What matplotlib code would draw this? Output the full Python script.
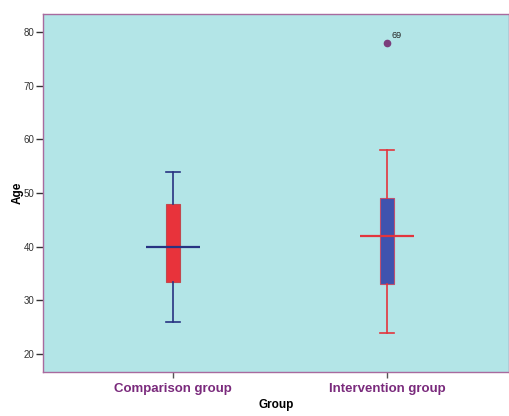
import matplotlib
matplotlib.use("Agg")
import matplotlib.pyplot as plt

groups = ["Comparison group", "Intervention group"]
whislo = [26, 24]
q1 = [33.5, 33]
med = [40, 42]
q3 = [48, 49]
whishi = [54, 58]
fliers = [[], [78]]
flier_ids = [[], ["69"]]
yticks = [20, 30, 40, 50, 60, 70, 80]

box_fill = ["#E8333B", "#3F53AE"]
line_col = ["#283382", "#E2353D"]
bg = "#B3E5E7"
frame = "#A86A9E"
label_col = "#7A2A7C"

plt.rcParams['font.family'] = ['Liberation Sans', 'DejaVu Sans']
fig = plt.figure(figsize=(5.10, 4.16), dpi=100)
ax = fig.add_axes([43/510, 44/416, 466/510, 358/416])
ax.set_facecolor(bg)

positions = [1, 2]
stats = []
for i, g in enumerate(groups):
    stats.append(dict(label=g, whislo=whislo[i], q1=q1[i], med=med[i],
                      q3=q3[i], whishi=whishi[i], fliers=fliers[i]))
art = ax.bxp(stats, positions=positions, widths=0.062, patch_artist=True,
             showfliers=False, capwidths=0.062)
for i in range(len(groups)):
    b = art['boxes'][i]
    b.set_facecolor(box_fill[i])
    b.set_edgecolor("#C2484E" if i == 0 else "#C0506E")
    b.set_linewidth(0.8)
    for w in art['whiskers'][2*i:2*i+2]:
        w.set_color(line_col[i]); w.set_linewidth(1.2)
    for c in art['caps'][2*i:2*i+2]:
        c.set_color(line_col[i]); c.set_linewidth(1.2)
    art['medians'][i].set_visible(False)
    ax.hlines(med[i], positions[i]-0.125, positions[i]+0.125,
              colors=line_col[i], linewidth=1.6, zorder=4)
    for v, lab in zip(fliers[i], flier_ids[i]):
        ax.plot([positions[i]], [v], 'o', color="#7B3E7C", markersize=4.5, zorder=5)
        ax.annotate(lab, (positions[i], v), xytext=(3, 2), textcoords='offset points',
                    fontsize=6.5, color="#222222", va='bottom', ha='left')

ax.set_xlim(0.393, 2.57)
ax.set_ylim(16.65, 83.35)
ax.set_yticks(yticks)
ax.set_yticklabels([str(t) for t in yticks], fontsize=7, color="#333333")
ax.set_xticks(positions)
ax.set_xticklabels(groups, fontsize=9.5, fontweight='bold', color=label_col)
ax.tick_params(axis='y', length=5, width=1, color="#333333", pad=1)
ax.tick_params(axis='x', length=4, width=1, color="#555555", pad=4)
for s in ax.spines.values():
    s.set_color(frame)
    s.set_linewidth(1.0)
ax.set_ylabel("Age", fontsize=8.5, fontweight='bold', labelpad=0)
ax.set_xlabel("Group", fontsize=8.5, fontweight='bold', labelpad=3)

fig.savefig("out.png", dpi=100)
